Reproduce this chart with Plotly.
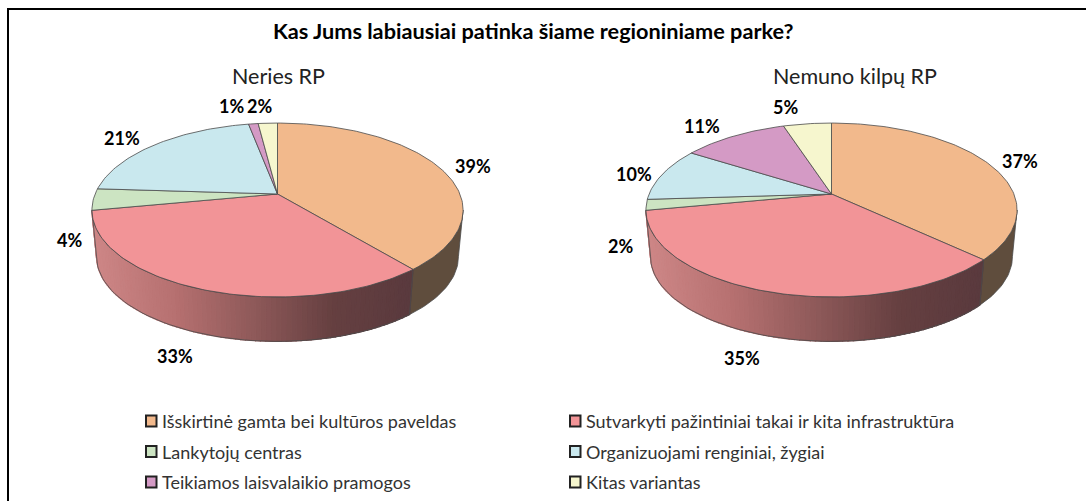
import numpy as np
import plotly.graph_objects as go

title = "Kas Jums labiausiai patinka šiame regioniniame parke?"
categories = ["Išskirtinė gamta bei kultūros paveldas",
              "Sutvarkyti pažintiniai takai ir kita infrastruktūra",
              "Lankytojų centras",
              "Organizuojami renginiai, žygiai",
              "Teikiamos laisvalaikio pramogos",
              "Kitas variantas"]
park_names = ["Neries RP", "Nemuno kilpų RP"]
neries_values = [39, 33, 4, 21, 1, 2]
nemunas_values = [37, 35, 2, 10, 11, 5]

W, H = 1086, 501
colors = ["#F2B98C", "#F29497", "#CCE4C2", "#C9E8EE", "#D49AC5", "#F6F6CE"]
edge = "#4a4a4a"
side_orange = "#5F4D3D"
grad_stops = [(0, (206, 135, 135)), (.25, (183, 113, 113)), (.5, (143, 90, 90)),
              (.75, (102, 64, 65)), (1, (90, 58, 62))]

# projection of the tilted disc (perspective), in pixels around the pie's centre
A, B, K = 182.4, 84.0, 0.184
APEX_Y = 194.0
BASE_SCALE, BASE_DY = 0.975, 47.0
CENTERS = [277.5, 831.5]


def project(theta, base=False):
    x, y = np.sin(theta), np.cos(theta)
    w = 1 + K * y
    u, v = A * x / w, -B * y / w
    if base:
        return u * BASE_SCALE, v * BASE_SCALE + BASE_DY
    return u, v


def grad(f):
    xs = [s[0] for s in grad_stops]
    return "rgb(%d,%d,%d)" % tuple(np.interp(f, xs, [s[1][i] for s in grad_stops]) for i in range(3))


fig = go.Figure()
right_extreme = np.arccos(-K)           # silhouette of the side wall
left_extreme = 2 * np.pi - right_extreme


def side_poly(t0, t1, n=24):
    ts = np.linspace(t0, t1, n)
    ux, uy = project(ts)
    bx, by = project(ts[::-1], base=True)
    return np.r_[ux, bx, ux[0]], np.r_[uy, by, uy[0]]


for p, values in enumerate([neries_values, nemunas_values]):
    xa, ya = ("x", "y") if p == 0 else ("x2", "y2")
    cum = np.cumsum([0] + values) / sum(values) * 2 * np.pi

    # side walls: first slice (dark) and second slice (gradient)
    x, y = side_poly(right_extreme, cum[1])
    fig.add_trace(go.Scatter(x=x, y=y, xaxis=xa, yaxis=ya, mode="lines", fill="toself",
                             fillcolor=side_orange, line=dict(color=edge, width=0.8),
                             hoverinfo="skip", showlegend=False))
    t_end = min(cum[2], left_extreme)
    edges = np.linspace(cum[1], t_end, 90)
    xl, xr = project(t_end)[0], project(cum[1])[0]
    for a, b in zip(edges[:-1], edges[1:]):
        x, y = side_poly(a, b, 5)
        f = (project((a + b) / 2)[0] - xl) / (xr - xl)
        c = grad(f)
        fig.add_trace(go.Scatter(x=x, y=y, xaxis=xa, yaxis=ya, mode="lines", fill="toself",
                                 fillcolor=c, line=dict(color=c, width=1.2),
                                 hoverinfo="skip", showlegend=False))
    # outline of the gradient wall
    x, y = side_poly(cum[1], t_end, 60)
    fig.add_trace(go.Scatter(x=x, y=y, xaxis=xa, yaxis=ya, mode="lines",
                             line=dict(color=edge, width=0.8), hoverinfo="skip", showlegend=False))

    # top face
    for i, v in enumerate(values):
        ts = np.linspace(cum[i], cum[i + 1], max(6, int(v * 3)))
        ux, uy = project(ts)
        fig.add_trace(go.Scatter(x=np.r_[0, ux, 0], y=np.r_[0, uy, 0], xaxis=xa, yaxis=ya,
                                 mode="lines", fill="toself", fillcolor=colors[i],
                                 line=dict(color=edge, width=0.8),
                                 name=categories[i], text=f"{v}%", hoverinfo="name+text",
                                 showlegend=False))

axis = dict(visible=False, fixedrange=True)
fig.update_layout(
    xaxis=dict(domain=[0, .5], range=[0 - CENTERS[0], W / 2 - CENTERS[0]], anchor="y", **axis),
    xaxis2=dict(domain=[.5, 1], range=[W / 2 - CENTERS[1], W - CENTERS[1]], anchor="y2", **axis),
    yaxis=dict(domain=[0, 1], range=[H - APEX_Y, -APEX_Y], anchor="x", **axis),
    yaxis2=dict(domain=[0, 1], range=[H - APEX_Y, -APEX_Y], anchor="x2", **axis),
    width=W, height=H, margin=dict(l=0, r=0, t=0, b=0),
    paper_bgcolor="white", plot_bgcolor="white", showlegend=False,
    font=dict(family="Lato", color="#000000"),
)


def px(x):
    return x / W


def py(y):
    return 1 - y / H


def text(x, y, s, size, bold=False, color="#000000", xanchor="center"):
    fig.add_annotation(x=px(x), y=py(y), xref="paper", yref="paper", text=f"<b>{s}</b>" if bold else s,
                       showarrow=False, xanchor=xanchor, yanchor="middle",
                       font=dict(size=size, color=color, family="Lato"))


text(533, 31, title, 21.7, bold=True)
text(278, 76, park_names[0], 21.5, color="#222222")
text(855, 76, park_names[1], 21.5, color="#222222")

label_pos = [[(473, 166), (175, 356), (69, 240), (122, 138), (231, 106), (259, 106)],
             [(1020, 161), (742, 358), (620, 246), (634, 174), (702, 126), (785, 107)]]
for vals, pos in zip([neries_values, nemunas_values], label_pos):
    for v, (lx, ly) in zip(vals, pos):
        text(lx, ly, f"{v}%", 18, bold=True)

# frame: left and top rules
fig.add_shape(type="rect", xref="paper", yref="paper", x0=px(7), x1=px(9), y0=0, y1=py(8),
              fillcolor="black", line_width=0)
fig.add_shape(type="rect", xref="paper", yref="paper", x0=px(7), x1=1, y0=py(10), y1=py(8),
              fillcolor="black", line_width=0)

# two-column key
rows = [421, 451.5, 482]
cols = [146, 570]
for i, cat in enumerate(categories):
    x0, yc = cols[i % 2], rows[i // 2]
    fig.add_shape(type="rect", xref="paper", yref="paper", x0=px(x0), x1=px(x0 + 10.5),
                  y0=py(yc + 5.5), y1=py(yc - 5.5), fillcolor=colors[i],
                  line=dict(color="#222222", width=2))
    text(x0 + 14, yc, cat, 18, color="#333333", xanchor="left")

fig.write_html("out.html", config={"displayModeBar": False},
               post_script="document.body.style.margin='0';document.documentElement.style.overflow='hidden';")
